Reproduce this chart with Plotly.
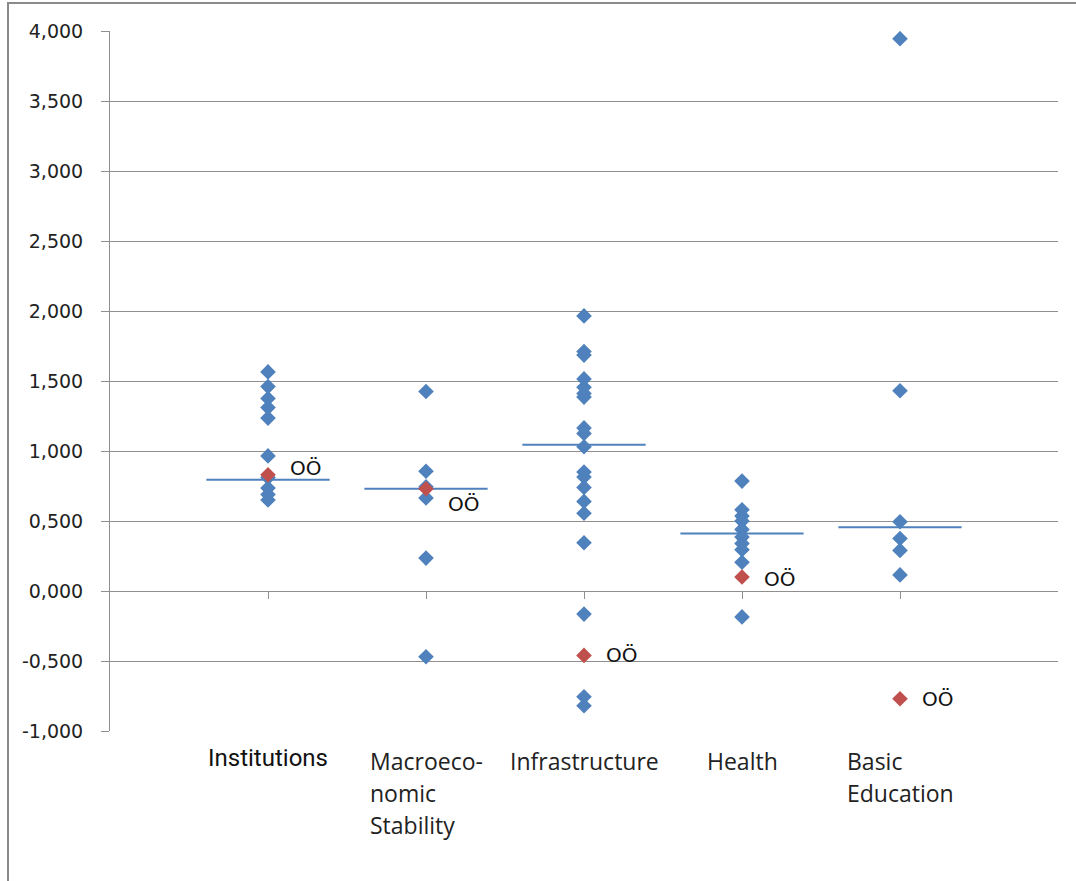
import plotly.graph_objects as go

# Categories (x positions 1..5) and observed values per category
categories = ["Institutions", "Macroeconomic Stability", "Infrastructure", "Health", "Basic Education"]
category_labels = ["Institutions", "Macroeco-<br>nomic<br>Stability", "Infrastructure", "Health", "Basic<br>Education"]

institutions = [1.565, 1.460, 1.375, 1.310, 1.235, 0.965, 0.810, 0.735, 0.690, 0.650]
macro_stability = [1.425, 0.855, 0.745, 0.665, 0.235, -0.470]
infrastructure = [1.965, 1.710, 1.685, 1.515, 1.455, 1.410, 1.385, 1.165, 1.125, 1.030,
                  0.850, 0.815, 0.740, 0.640, 0.555, 0.345, -0.165, -0.755, -0.820]
health = [0.785, 0.580, 0.535, 0.500, 0.440, 0.385, 0.340, 0.295, 0.205, -0.185]
basic_education = [3.945, 1.430, 0.495, 0.375, 0.290, 0.115]

# Highlighted region (OÖ) and reference level per category
ooe_values = [0.830, 0.730, -0.460, 0.100, -0.770]
ooe_label = "OÖ"
reference_level = [0.795, 0.730, 1.045, 0.410, 0.455]

# Y axis ticks
y_tickvals = [-1.0, -0.5, 0.0, 0.5, 1.0, 1.5, 2.0, 2.5, 3.0, 3.5, 4.0]
y_ticktext = ["-1,000", "-0,500", "0,000", "0,500", "1,000", "1,500",
              "2,000", "2,500", "3,000", "3,500", "4,000"]

BLUE = "#4F81BD"
RED = "#C0504D"
GRID = "#8f8f8f"

W, H = 1076, 881
ML, MR, MT, MB = 110, 18, 31, 150
PW, PH = W - ML - MR, H - MT - MB
Y_MIN, Y_MAX = -1.0, 4.0
HALF = 0.39  # half-width of reference segments in category units

series = [institutions, macro_stability, infrastructure, health, basic_education]

fig = go.Figure()

# Reference level segments
seg_x, seg_y = [], []
for i, lvl in enumerate(reference_level):
    pos = i + 1
    seg_x += [pos - HALF, pos + HALF, None]
    seg_y += [lvl, lvl, None]
fig.add_trace(go.Scatter(x=seg_x, y=seg_y, mode="lines",
                         line=dict(color=BLUE, width=2), hoverinfo="skip",
                         showlegend=False))

# Blue observations
bx, by = [], []
for i, vals in enumerate(series):
    bx += [i + 1] * len(vals)
    by += vals
fig.add_trace(go.Scatter(x=bx, y=by, mode="markers",
                         marker=dict(symbol="diamond", size=12, color=BLUE,
                                     line=dict(width=0)),
                         showlegend=False))

# Red highlighted values
fig.add_trace(go.Scatter(x=[i + 1 for i in range(len(ooe_values))], y=ooe_values,
                         mode="markers",
                         marker=dict(symbol="diamond", size=12, color=RED,
                                     line=dict(width=0)),
                         showlegend=False))

# Value labels next to red markers (vertical nudges in px)
label_nudge = [7, -15, 0, -2, 0]
for i, v in enumerate(ooe_values):
    fig.add_annotation(x=i + 1, y=v, xref="x", yref="y", text=ooe_label,
                       showarrow=False, xanchor="left", yanchor="middle",
                       xshift=20, yshift=label_nudge[i],
                       font=dict(family="DejaVu Sans", size=20, color="#111111"))

# Category labels below the plot area
for i, lab in enumerate(category_labels):
    if i == 0:
        fnt = dict(family="Roboto", size=24, color="#111111")
        txt = lab
        top_px = 742
    else:
        fnt = dict(family="Open Sans", size=24.5, color="#222222")
        txt = "<br>".join(f'<span style="font-size:23px">{part}</span>' for part in lab.split("<br>"))
        top_px = 743
    fig.add_annotation(x=i + 1, y=-(top_px - (H - MB)) / PH, xref="x", yref="paper",
                       text=txt, showarrow=False, xanchor="center", yanchor="top",
                       align="left", font=fnt)

# Outer frame
fig.add_shape(type="rect", xref="paper", yref="paper",
              x0=(8 - ML) / PW, x1=(W + 10 - ML) / PW,
              y0=-(H + 10 - (H - MB)) / PH, y1=(H - MB - 3) / PH,
              line=dict(color="#8a8a8a", width=2), fillcolor="rgba(0,0,0,0)", layer="below")

fig.update_layout(
    width=W, height=H,
    margin=dict(l=ML, r=MR, t=MT, b=MB),
    paper_bgcolor="white", plot_bgcolor="white",
    showlegend=False,
    xaxis=dict(range=[0, 6], tickvals=[1, 2, 3, 4, 5], showticklabels=False,
               ticks="outside", ticklen=7, tickcolor=GRID, showgrid=False,
               zeroline=False, showline=True, linecolor=GRID, linewidth=1,
               anchor="free", position=(0 - Y_MIN) / (Y_MAX - Y_MIN)),
    yaxis=dict(range=[Y_MIN, Y_MAX], tickvals=y_tickvals, ticktext=y_ticktext,
               ticks="outside", ticklen=8, tickcolor=GRID,
               showgrid=True, gridcolor=GRID, gridwidth=1,
               zeroline=False, showline=True, linecolor=GRID, linewidth=1,
               tickfont=dict(family="DejaVu Sans", size=19, color="#222222"),
               ticklabelstandoff=14),
)

fig.write_html("out.html")
